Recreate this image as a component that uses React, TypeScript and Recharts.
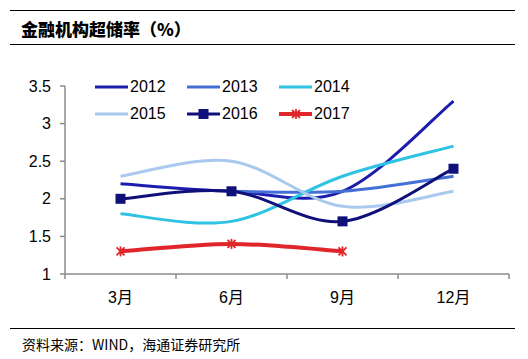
import React from 'react';
import { LineChart, Line, XAxis, YAxis, Legend } from 'recharts';

const months = ['3月', '6月', '9月', '12月'];
const s2012 = [2.2, 2.1, 2.1, 3.3];
const s2013 = [null, 2.1, 2.1, 2.3];
const s2014 = [1.8, 1.7, 2.3, 2.7];
const s2015 = [2.3, 2.5, 1.9, 2.1];
const s2016 = [2.0, 2.1, 1.7, 2.4];
const s2017 = [1.3, 1.4, 1.3, null];
const yTicks = [1, 1.5, 2, 2.5, 3, 3.5];
const titleText = '金融机构超储率（%）';
const sourceText = '资料来源：WIND，海通证券研究所';

const data = months.map((m, i) => ({
  x: i + 0.5,
  month: m,
  y2012: s2012[i],
  y2013: s2013[i],
  y2014: s2014[i],
  y2015: s2015[i],
  y2016: s2016[i],
  y2017: s2017[i],
}));

// Excel-like smoothing (uniform Catmull-Rom as cubic Bezier)
function excelCurve(context: any) {
  let pts: number[][] = [];
  return {
    areaStart() {},
    areaEnd() {},
    lineStart() {
      pts = [];
    },
    point(x: number, y: number) {
      pts.push([+x, +y]);
    },
    lineEnd() {
      const n = pts.length;
      if (!n) return;
      context.moveTo(pts[0][0], pts[0][1]);
      for (let i = 0; i < n - 1; i++) {
        const p0 = pts[i - 1] || pts[i];
        const p1 = pts[i];
        const p2 = pts[i + 1];
        const p3 = pts[i + 2] || pts[i + 1];
        const c1x = p1[0] + (p2[0] - p0[0]) / 6;
        const c1y = p1[1] + (p2[1] - p0[1]) / 6;
        const c2x = p2[0] - (p3[0] - p1[0]) / 6;
        const c2y = p2[1] - (p3[1] - p1[1]) / 6;
        context.bezierCurveTo(c1x, c1y, c2x, c2y, p2[0], p2[1]);
      }
    },
  };
}

const series = [
  { key: 'y2012', name: '2012', color: '#1c1cae', marker: 'none', width: 3 },
  { key: 'y2013', name: '2013', color: '#4470d6', marker: 'none', width: 3 },
  { key: 'y2014', name: '2014', color: '#2ec3e2', marker: 'none', width: 3 },
  { key: 'y2015', name: '2015', color: '#a9c9ee', marker: 'none', width: 3 },
  { key: 'y2016', name: '2016', color: '#10107a', marker: 'square', width: 3 },
  { key: 'y2017', name: '2017', color: '#e0262a', marker: 'star', width: 4 },
];

const FONT = '"Liberation Sans", Arial, "Noto Sans CJK SC", sans-serif';

const SquareDot = (props: any) => {
  const { cx, cy, stroke } = props;
  if (cx == null || cy == null || props.value == null) return <g />;
  return <rect x={cx - 5} y={cy - 5} width={10} height={10} fill={stroke} />;
};

const StarDot = (props: any) => {
  const { cx, cy, stroke } = props;
  if (cx == null || cy == null || props.value == null) return <g />;
  const r = 4;
  return (
    <g stroke={stroke} strokeWidth={1.8}>
      <line x1={cx - r} y1={cy - r} x2={cx + r} y2={cy + r} />
      <line x1={cx - r} y1={cy + r} x2={cx + r} y2={cy - r} />
      <line x1={cx} y1={cy - r - 1} x2={cx} y2={cy + r + 1} />
    </g>
  );
};

const markerFor = (m: string) => {
  if (m === 'square') return <SquareDot />;
  if (m === 'star') return <StarDot />;
  return false;
};

const LegendContent = () => (
  <div
    style={{
      display: 'grid',
      gridTemplateColumns: '92px 92px 92px',
      gridAutoRows: '27px',
      fontFamily: FONT,
      fontSize: 16,
      color: '#000',
    }}
  >
    {series.map((s) => (
      <div key={s.key} style={{ display: 'flex', alignItems: 'center' }}>
        <svg width={34} height={14} style={{ display: 'block' }}>
          <line x1={0} y1={7} x2={33} y2={7} stroke={s.color} strokeWidth={s.width} />
          {s.marker === 'square' && <rect x={11.5} y={2} width={10} height={10} fill={s.color} />}
          {s.marker === 'star' && (
            <g stroke={s.color} strokeWidth={1.8}>
              <line x1={13} y1={3} x2={21} y2={11} />
              <line x1={13} y1={11} x2={21} y2={3} />
              <line x1={17} y1={2} x2={17} y2={12} />
            </g>
          )}
        </svg>
        <span style={{ marginLeft: 1 }}>{s.name}</span>
      </div>
    ))}
  </div>
);

const XTick = (props: any) => {
  const { x, y, payload } = props;
  const v = payload.value;
  if (Number.isInteger(v)) {
    return <line x1={x} y1={y} x2={x} y2={y + 5} stroke="#8c8c8c" strokeWidth={1.5} />;
  }
  const idx = Math.floor(v);
  return (
    <text x={x} y={y + 29} textAnchor="middle" fontFamily={FONT} fontSize={16} fill="#000">
      {months[idx]}
    </text>
  );
};

export default function App() {
  const xTicks: number[] = [];
  for (let i = 0; i <= months.length * 2; i++) xTicks.push(i / 2);
  return (
    <div style={{ position: 'absolute', left: 0, top: 0, width: 528, height: 359, background: '#fff' }}>
      <div style={{ position: 'absolute', left: 10, top: 10, width: 505, height: 0, borderTop: '1.5px solid #000' }} />
      <div
        style={{
          position: 'absolute',
          left: 21,
          top: 17,
          fontFamily: '"Noto Sans CJK SC", sans-serif',
          fontWeight: 900,
          fontSize: 17,
          lineHeight: '24px',
          color: '#000',
        }}
      >
        {titleText}
      </div>
      <div style={{ position: 'absolute', left: 10, top: 44, width: 505, height: 0, borderTop: '1.5px solid #000' }} />
      <div style={{ position: 'absolute', left: 0, top: 0 }}>
        <LineChart width={528} height={359} data={data} margin={{ top: 86, right: 19, bottom: 55, left: 0 }}>
          <XAxis
            dataKey="x"
            type="number"
            domain={[0, months.length]}
            ticks={xTicks}
            interval={0}
            tickLine={false}
            tickSize={0}
            tickMargin={0}
            tick={<XTick />}
            axisLine={{ stroke: '#8c8c8c', strokeWidth: 1.5 }}
            height={30}
          />
          <YAxis
            type="number"
            domain={[1, 3.5]}
            ticks={yTicks}
            interval={0}
            width={65}
            tickSize={5}
            tickMargin={9}
            tickLine={{ stroke: '#8c8c8c', strokeWidth: 1.5 }}
            axisLine={{ stroke: '#8c8c8c', strokeWidth: 1.5 }}
            tick={{ fontFamily: FONT, fontSize: 16, fill: '#000' }}
          />
          <Legend
            layout="vertical"
            align="center"
            verticalAlign="middle"
            content={<LegendContent />}
            wrapperStyle={{ top: 73, left: 95, width: 290, height: 54 }}
          />
          {series.map((s) => (
            <Line
              key={s.key}
              dataKey={s.key}
              name={s.name}
              type={excelCurve as any}
              stroke={s.color}
              strokeWidth={s.width}
              dot={markerFor(s.marker) as any}
              activeDot={false}
              isAnimationActive={false}
              connectNulls={false}
            />
          ))}
        </LineChart>
      </div>
      <div style={{ position: 'absolute', left: 10, top: 328, width: 505, height: 0, borderTop: '1.5px solid #000' }} />
      <div
        style={{
          position: 'absolute',
          left: 22,
          top: 334,
          fontFamily: '"Noto Sans CJK SC", sans-serif',
          fontSize: 14,
          lineHeight: '20px',
          color: '#000',
        }}
      >
        {sourceText}
      </div>
    </div>
  );
}
